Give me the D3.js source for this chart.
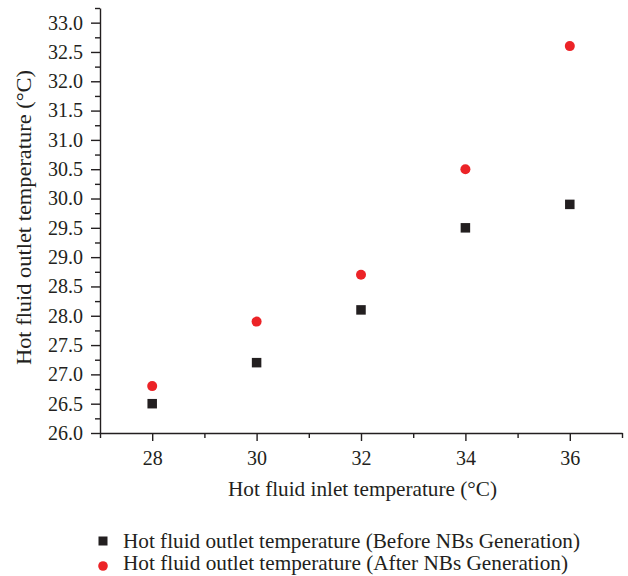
<!DOCTYPE html>
<html lang="en">
<head>
  <meta charset="UTF-8" />
  <title>Hot fluid outlet temperature</title>
  <style>
    html, body { margin: 0; padding: 0; background: #fff; }
    svg { display: block; font-family: "Liberation Serif", "DejaVu Serif", serif; }
  </style>
</head>
<body>
  <script src="https://d3js.org/d3.v7.min.js"></script>
  <script>
    const inletTemps = [28, 30, 32, 34, 36];
    const outletBefore = [26.5, 27.2, 28.1, 29.5, 29.9];
    const outletAfter = [26.8, 27.9, 28.7, 30.5, 32.6];
    const xTicks = [28, 30, 32, 34, 36];
    const yTicks = [26.0, 26.5, 27.0, 27.5, 28.0, 28.5, 29.0, 29.5, 30.0, 30.5, 31.0, 31.5, 32.0, 32.5, 33.0];
    const legendLabels = [
      "Hot fluid outlet temperature (Before NBs Generation)",
      "Hot fluid outlet temperature (After NBs Generation)"
    ];

    const width = 628, height = 576;
    const plotLeft = 100, plotRight = 622, plotTop = 8, plotBottom = 433;
    const ink = "#231f20", red = "#ec2327";

    const svg = d3.select("body").append("svg")
      .attr("width", width).attr("height", height);

    const x = d3.scaleLinear().domain([27, 37]).range([plotLeft, plotRight]);
    const y = d3.scaleLinear().domain([26, 33.25]).range([plotBottom, plotTop]);

    // minor ticks first, then major ticks on top
    const xMinor = [27, 29, 31, 33, 35, 37];
    const yMinor = d3.range(26.25, 33.3, 0.5);

    svg.append("g").attr("transform", `translate(0,${plotBottom})`)
      .call(d3.axisBottom(x).tickValues(xMinor).tickSize(5).tickFormat(""))
      .call(g => g.select(".domain").remove());
    svg.append("g").attr("transform", `translate(0,${plotBottom})`)
      .call(d3.axisBottom(x).tickValues(xTicks).tickSize(8).tickSizeOuter(0).tickPadding(10).tickFormat(d3.format("d")));

    svg.append("g").attr("transform", `translate(${plotLeft},0)`)
      .call(d3.axisLeft(y).tickValues(yMinor).tickSize(5).tickFormat(""))
      .call(g => g.select(".domain").remove());
    svg.append("g").attr("transform", `translate(${plotLeft},0)`)
      .call(d3.axisLeft(y).tickValues(yTicks).tickSize(9).tickSizeOuter(0).tickPadding(8).tickFormat(d3.format(".1f")));

    svg.selectAll(".domain, .tick line").attr("stroke", ink).attr("stroke-width", 1.4);
    svg.selectAll(".tick text").attr("fill", ink).style("font-size", "20px")
      .style("font-family", "'Liberation Serif', serif");

    // axis titles
    svg.append("text")
      .attr("x", 362.5).attr("y", 496)
      .attr("text-anchor", "middle")
      .attr("fill", ink).style("font-size", "21px")
      .attr("textLength", 269).attr("lengthAdjust", "spacingAndGlyphs")
      .text("Hot fluid inlet temperature (\u00B0C)");

    svg.append("text")
      .attr("transform", "translate(31,217.5) rotate(-90)")
      .attr("text-anchor", "middle")
      .attr("fill", ink).style("font-size", "21px")
      .attr("textLength", 295).attr("lengthAdjust", "spacingAndGlyphs")
      .text("Hot fluid outlet temperature (\u00B0C)");

    // series
    const before = inletTemps.map((t, i) => ({ t, v: outletBefore[i] }));
    const after = inletTemps.map((t, i) => ({ t, v: outletAfter[i] }));
    const sq = 9.5;

    svg.append("g").selectAll("rect").data(before).join("rect")
      .attr("x", d => x(d.t) - sq / 2).attr("y", d => y(d.v) - sq / 2)
      .attr("width", sq).attr("height", sq).attr("fill", ink);

    svg.append("g").selectAll("circle").data(after).join("circle")
      .attr("cx", d => x(d.t)).attr("cy", d => y(d.v))
      .attr("r", 5).attr("fill", red);

    // legend
    const legendWidths = [457, 445];
    const legend = svg.append("g");
    legend.append("rect").attr("x", 98.5).attr("y", 536.5).attr("width", 9).attr("height", 9).attr("fill", ink);
    legend.append("circle").attr("cx", 103).attr("cy", 566).attr("r", 4.8).attr("fill", red);
    legendLabels.forEach((label, i) => {
      legend.append("text")
        .attr("x", 123).attr("y", 548 + i * 22)
        .attr("fill", ink).style("font-size", "21px")
        .attr("textLength", legendWidths[i]).attr("lengthAdjust", "spacingAndGlyphs")
        .text(label);
    });
  </script>
</body>
</html>
